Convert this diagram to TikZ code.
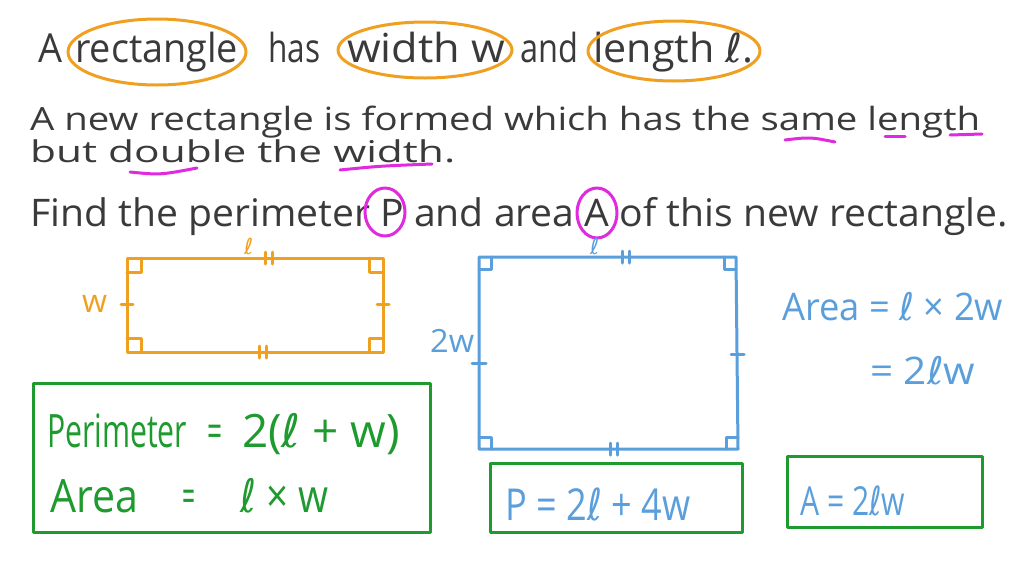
\documentclass[tikz,border=0pt]{standalone}
\usepackage{fontspec}
\usepackage{graphicx}
\setmainfont{Open Sans}
\newfontfamily\ellfont{DejaVu Sans}
\newcommand\ELL{{\ellfont ℓ}}
\newcommand\fitw[2]{\resizebox{#1pt}{\height}{#2}}
\newcommand\fsz[1]{\fontsize{#1}{#1}\selectfont}
\definecolor{ink}{HTML}{3A3A3A}
\definecolor{orng}{HTML}{F0A020}
\definecolor{blu}{HTML}{5A9FDC}
\definecolor{grn}{HTML}{1E9A2E}
\definecolor{mag}{HTML}{E02AE0}
\tikzset{
  txt/.style={inner sep=0pt, anchor=base west, text=ink},
  otxt/.style={txt, text=orng},
  btxt/.style={txt, text=blu},
  gtxt/.style={txt, text=grn},
  open/.style={draw=orng, line width=3pt},
  bpen/.style={draw=blu, line width=3pt},
  gpen/.style={draw=grn, line width=3pt},
  mpen/.style={draw=mag, line width=3pt},
}
\begin{document}
\begin{tikzpicture}[x=1pt,y=-1pt,line cap=round,line join=round]
\useasboundingbox (0,0) rectangle (1024,576);
\fill[white] (0,0) rectangle (1024,576);
% line 1
\node[txt,font=\fsz{40}] (l1a) at (38,62) {\fitw{24}{A}};
\node[txt,font=\fsz{40}] (l1b) at (75,62) {\fitw{163}{rectangle}};
\node[txt,font=\fsz{40}] (l1c) at (268,62) {\fitw{52}{has}};
\node[txt,font=\fsz{40}] (l1d) at (347,62) {\fitw{158}{width w}};
\node[txt,font=\fsz{40}] (l1e) at (520,62) {\fitw{58}{and}};
\node[txt,font=\fsz{40}] (l1f) at (593,62) {\fitw{160}{length \ELL.}};
\draw[open] (157,52) ellipse [x radius=89, y radius=33];
\draw[open] (425,50) ellipse [x radius=87, y radius=28];
\draw[open] (674,51) ellipse [x radius=86, y radius=30];
% lines 2-4
\node[txt,font=\fsz{32}] (l2) at (30,130) {\fitw{950}{A new rectangle is formed which has the same length}};
\node[txt,font=\fsz{30}] (l3) at (30,162) {\fitw{425}{but double the width.}};
\node[txt,font=\fsz{38}] (l4) at (30,226) {\fitw{978}{Find the perimeter P and area A of this new rectangle.}};
\draw[mpen] (785,140) .. controls (810,137) .. (835,142);
\draw[mpen] (885,136) -- (905,136);
\draw[mpen] (950,135) -- (982,134);
\draw[mpen] (130,172) .. controls (160,175) .. (197,168);
\draw[mpen] (340,170) .. controls (380,166) .. (432,164);
\draw[mpen] (385,212) ellipse [x radius=20, y radius=24];
\draw[mpen] (597,213) ellipse [x radius=20, y radius=25];
% orange rectangle
\draw[open] (127,258) rectangle (383,352);
\draw[open] (141,258) |- (127,272);
\draw[open] (369,258) |- (383,272);
\draw[open] (141,352) |- (127,338);
\draw[open] (369,352) |- (383,338);
\draw[open] (121,304) -- (133,304);
\draw[open] (377,304) -- (389,304);
\draw[open] (265,252) -- (265,264);
\draw[open] (272,252) -- (272,264);
\draw[open] (259,346) -- (259,358);
\draw[open] (266,346) -- (266,358);
\node[otxt,font=\fsz{22}] (ol) at (244,254) {\ELL};
\node[otxt,font=\fsz{32}] (ow) at (82,312) {\fitw{25}{w}};
% blue rectangle
\draw[bpen] (479,257) -- (736,257) -- (738,449) -- (479,449) -- cycle;
\draw[bpen] (491,257) |- (479,269);
\draw[bpen] (724,257) |- (736,269);
\draw[bpen] (491,449) |- (479,437);
\draw[bpen] (726,449) |- (738,437);
\draw[bpen] (622,251) -- (622,263);
\draw[bpen] (629,251) -- (629,263);
\draw[bpen] (610,443) -- (610,455);
\draw[bpen] (617,443) -- (617,455);
\draw[bpen] (472,363) -- (486,363);
\draw[bpen] (731,354) -- (744,354);
\node[btxt,font=\fsz{22}] (bl) at (590,254) {\ELL};
\node[btxt,font=\fsz{32}] (bw) at (430,352) {\fitw{44}{2w}};
% blue area text
\node[btxt,font=\fsz{38}] (ba1) at (782,320) {\fitw{221}{Area = \ELL{} × 2w}};
\node[btxt,font=\fsz{38}] (ba2) at (870,384) {\fitw{105}{= 2\ELL w}};
% green boxes
\draw[gpen] (33,383) rectangle (430,532);
\node[gtxt,font=\fsz{46}] (g1a) at (47,447) {\fitw{140}{Perimeter}};
\node[gtxt,font=\fsz{46}] (g1b) at (207,447) {\fitw{15}{=}};
\node[gtxt,font=\fsz{46}] (g1c) at (242,447) {\fitw{158}{2(\ELL{} + w)}};
\node[gtxt,font=\fsz{46}] (g2a) at (50,512) {\fitw{88}{Area}};
\node[gtxt,font=\fsz{46}] (g2b) at (182,512) {\fitw{13}{=}};
\node[gtxt,font=\fsz{46}] (g2c) at (240,512) {\fitw{88}{\ELL{} × w}};
\draw[gpen] (490,463) rectangle (742,532);
\node[btxt,font=\fsz{44}] (p) at (505,520) {\fitw{185}{P = 2\ELL{} + 4w}};
\draw[gpen] (787,456) rectangle (982,527);
\node[btxt,font=\fsz{40}] (a) at (800,515) {\fitw{105}{A = 2\ELL w}};
\end{tikzpicture}
\end{document}
